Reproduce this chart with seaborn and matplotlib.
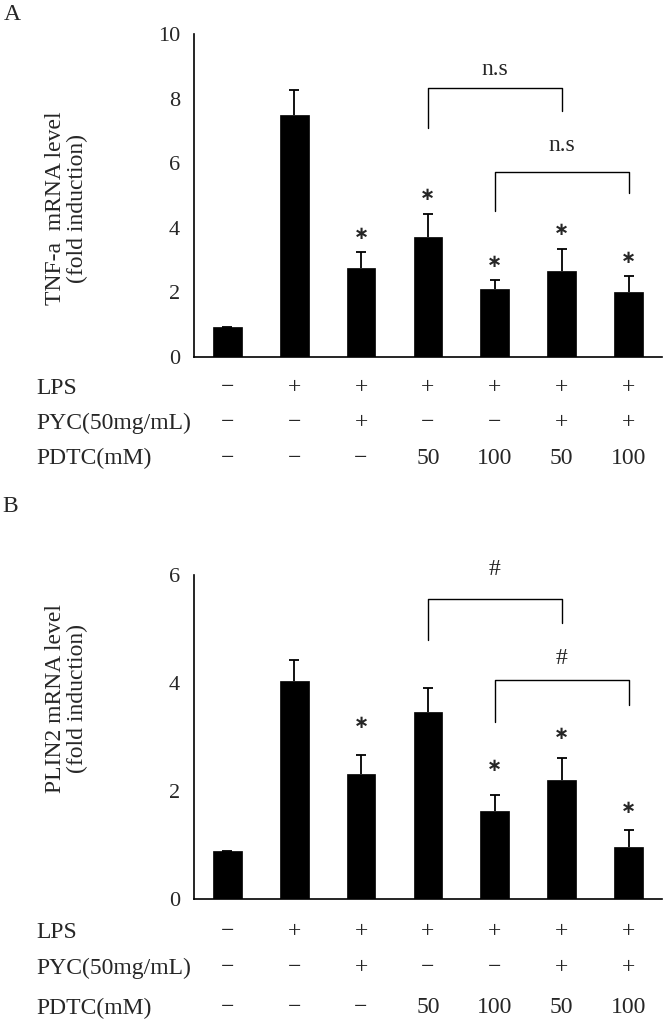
import matplotlib
matplotlib.use('Agg')
import matplotlib.pyplot as plt
import matplotlib.transforms as mtransforms
import seaborn as sns

# treatment table
row_names = ['LPS', 'PYC(50mg/mL)', 'PDTC(mM)']
lps = ['−', '+', '+', '+', '+', '+', '+']
pyc = ['−', '−', '+', '−', '−', '+', '+']
pdtc = ['−', '−', '−', '50', '100', '50', '100']

# panel A: TNF-a
tnf_mean = [0.93, 7.50, 2.76, 3.71, 2.11, 2.66, 2.02]
tnf_err = [0.0, 0.77, 0.48, 0.73, 0.27, 0.69, 0.50]
tnf_star = [None, None, 3.81, 5.02, 2.95, 3.93, 3.07]
# (left bar, right bar, top, left leg end, right leg end, label, label y)
tnf_brackets = [(3, 5, 8.32, 7.08, 7.62, 'n.s', 8.9),
                (4, 6, 5.74, 4.52, 5.07, 'n.s', 6.55)]

# panel B: PLIN2
plin2_mean = [0.89, 4.03, 2.31, 3.46, 1.63, 2.20, 0.97]
plin2_err = [0.0, 0.39, 0.35, 0.44, 0.29, 0.41, 0.30]
plin2_star = [None, None, 3.26, None, 2.46, 3.06, 1.68]
plin2_brackets = [(3, 5, 5.56, 4.79, 5.11, '#', 6.1),
                  (4, 6, 4.05, 3.27, 3.60, '#', 4.45)]

sns.set_style('white')
plt.rcParams['font.family'] = ['Liberation Serif', 'DejaVu Serif']
plt.rcParams['axes.unicode_minus'] = False

FS = 17


def draw_panel(ax, mean, err, stars, brackets, ylim, yticks, ylabel, label_y, row_y):
    pos = list(range(len(mean)))
    sns.barplot(x=pos, y=mean, ax=ax, color='black', saturation=1,
                width=0.43, errorbar=None, edgecolor='black', linewidth=0.5)
    # upper error bars only
    tops = [m + e for m, e in zip(mean, err)]
    ax.vlines(pos, mean, tops, color='black', lw=1.3)
    ax.hlines(tops, [p - 0.075 for p in pos], [p + 0.075 for p in pos],
              color='black', lw=1.3)

    for i, s in enumerate(stars):
        if s is not None:
            ax.text(i, s, '∗', ha='center', va='center', fontsize=13,
                    fontweight='bold', family='DejaVu Sans')

    for x1, x2, top, l_end, r_end, lab, ly in brackets:
        ax.plot([x1, x1, x2, x2], [l_end, top, top, r_end], color='black', lw=1.0)
        ax.text((x1 + x2) / 2, ly, lab, ha='center', va='center', fontsize=FS)

    ax.set_xlim(-0.5, 6.5)
    ax.set_ylim(*ylim)
    ax.set_yticks(yticks)
    ax.set_yticklabels([str(t) for t in yticks], fontsize=16)
    ax.set_xticks([0.5, 1.5, 2.5, 3.5, 4.5, 5.5])
    ax.set_xticklabels([])
    ax.tick_params(axis='x', direction='in', length=3, width=1, color='black')
    ax.tick_params(axis='y', direction='out', length=2, width=1, color='black', pad=8)
    ax.set_ylabel(ylabel, fontsize=FS, linespacing=1.05)
    ax.yaxis.set_label_coords(-0.226, label_y)
    for side in ['top', 'right']:
        ax.spines[side].set_visible(False)
    for side in ['left', 'bottom']:
        ax.spines[side].set_color('black')
        ax.spines[side].set_linewidth(1.2)

    trans = mtransforms.blended_transform_factory(ax.transData, ax.transAxes)
    for row, yy in zip([lps, pyc, pdtc], row_y):
        for i, s in enumerate(row):
            ax.text(i, yy, s, transform=trans, ha='center', va='center', fontsize=FS)


fig = plt.figure(figsize=(6.66, 10.22), dpi=100)
ax1 = fig.add_axes([0.291, 0.6507, 0.703, 0.316])
ax2 = fig.add_axes([0.291, 0.1204, 0.703, 0.317])

draw_panel(ax1, tnf_mean, tnf_err, tnf_star, tnf_brackets, (0, 10),
           [0, 2, 4, 6, 8, 10], 'TNF-a  mRNA level\n(fold induction)', 0.46,
           [-0.096, -0.204, -0.313])
draw_panel(ax2, plin2_mean, plin2_err, plin2_star, plin2_brackets, (0, 6),
           [0, 2, 4, 6], 'PLIN2 mRNA level\n(fold induction)', 0.62,
           [-0.102, -0.213, -0.336])

# row labels of the treatment tables
for name, yy in zip(row_names, [388, 423, 458]):
    fig.text(36 / 666, 1 - yy / 1022, name, ha='left', va='center', fontsize=FS)
for name, yy in zip(row_names, [932, 968, 1008]):
    fig.text(36 / 666, 1 - yy / 1022, name, ha='left', va='center', fontsize=FS)

fig.text(12 / 666, 1 - 15 / 1022, 'A', ha='center', va='center', fontsize=FS)
fig.text(10 / 666, 1 - 507 / 1022, 'B', ha='center', va='center', fontsize=FS)

fig.savefig('out.png', dpi=100)
